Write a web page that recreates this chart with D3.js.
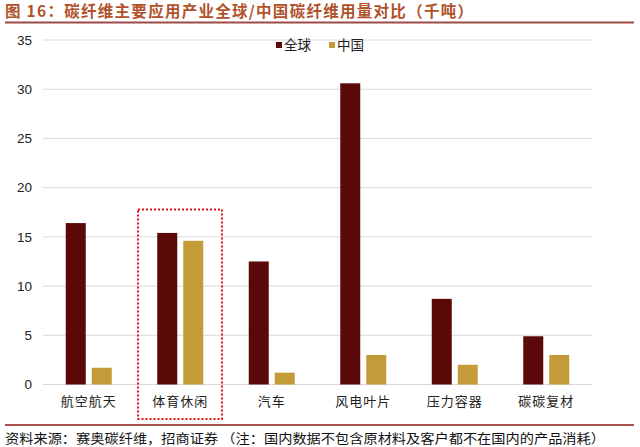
<!DOCTYPE html>
<html>
<head>
<meta charset="utf-8">
<script src="https://cdn.jsdelivr.net/npm/d3@7"></script>
<style>
  body { margin: 0; background: #fff; }
  svg text { font-family: "Noto Sans CJK SC", "Liberation Sans", sans-serif; }
</style>
</head>
<body>
<div id="chart"></div>
<script>
const categories = ['航空航天', '体育休闲', '汽车', '风电叶片', '压力容器', '碳碳复材']
const globalValues = [16.4, 15.4, 12.5, 30.6, 8.7, 4.9]
const chinaValues = [1.7, 14.6, 1.2, 3.0, 2.0, 3.0]
const seriesNames = ['全球', '中国']
const yTicks = [0, 5, 10, 15, 20, 25, 30, 35]

const width = 640
const height = 447
const margin = {top: 40, right: 48, bottom: 62.5, left: 43}
const colors = ['#5a0808', '#c39b38']

const svg = d3.select('#chart').append('svg')
    .attr('width', width)
    .attr('height', height)

// title
svg.append('text')
    .attr('x', 5)
    .attr('y', 17)
    .attr('fill', '#b0522a')
    .attr('font-size', 15.5)
    .attr('font-weight', 'bold')
    .attr('textLength', 468)
    .attr('lengthAdjust', 'spacing')
    .text('图 16：碳纤维主要应用产业全球/中国碳纤维用量对比（千吨）')
svg.append('line')
    .attr('x1', 5).attr('x2', 634)
    .attr('y1', 22.5).attr('y2', 22.5)
    .attr('stroke', '#9b4b45')
    .attr('stroke-width', 2)

const x = d3.scaleBand()
    .domain(categories)
    .range([margin.left, width - margin.right])

const y = d3.scaleLinear()
    .domain([0, 35])
    .range([height - margin.bottom, margin.top])

// gridlines
svg.append('g')
    .selectAll('line')
    .data(yTicks)
    .join('line')
    .attr('x1', margin.left)
    .attr('x2', width - margin.right)
    .attr('y1', d => y(d))
    .attr('y2', d => y(d))
    .attr('stroke', '#d9d9d9')
    .attr('stroke-width', 1)

// y tick labels
svg.append('g')
    .selectAll('text')
    .data(yTicks)
    .join('text')
    .attr('x', 32)
    .attr('y', d => y(d))
    .attr('dy', '0.35em')
    .attr('text-anchor', 'end')
    .attr('font-size', 13.5)
    .attr('fill', '#222')
    .style('font-family', '"Liberation Sans", Arial, sans-serif')
    .text(d => d)

const barW = 20
const gap = 6
const series = [globalValues, chinaValues]

series.forEach((vals, s) => {
    svg.append('g')
        .selectAll('rect')
        .data(vals)
        .join('rect')
        .attr('x', (d, i) => x(categories[i]) + x.bandwidth() / 2 - barW - gap / 2 + s * (barW + gap))
        .attr('y', d => y(d))
        .attr('width', barW)
        .attr('height', d => y(0) - y(d))
        .attr('fill', colors[s])
})

// category labels
svg.append('g')
    .selectAll('text')
    .data(categories)
    .join('text')
    .attr('x', d => x(d) + x.bandwidth() / 2)
    .attr('y', 406)
    .attr('text-anchor', 'middle')
    .attr('font-size', 13)
    .attr('letter-spacing', 1)
    .attr('fill', '#222')
    .text(d => d)

// highlight box round 体育休闲
const hb = x('体育休闲')
svg.append('rect')
    .attr('x', hb + 3.5)
    .attr('y', 209.5)
    .attr('width', x.bandwidth() - 7.5)
    .attr('height', 209.5)
    .attr('fill', 'none')
    .attr('stroke', '#e0141e')
    .attr('stroke-width', 2)
    .attr('stroke-dasharray', '2,2')

// legend
const legend = svg.append('g')
seriesNames.forEach((name, i) => {
    const lx = 276 + i * 53
    legend.append('rect')
        .attr('x', lx).attr('y', 42)
        .attr('width', 6).attr('height', 6)
        .attr('fill', colors[i])
    legend.append('text')
        .attr('x', lx + 8).attr('y', 50)
        .attr('font-size', 13.5)
        .attr('fill', '#222')
        .text(name)
})

// footer
svg.append('line')
    .attr('x1', 5).attr('x2', 634)
    .attr('y1', 425).attr('y2', 425)
    .attr('stroke', '#8b1414')
    .attr('stroke-width', 1.5)
svg.append('text')
    .attr('x', 5)
    .attr('y', 443)
    .attr('font-size', 13)
    .attr('fill', '#111')
    .attr('textLength', 600)
    .attr('lengthAdjust', 'spacingAndGlyphs')
    .text('资料来源：赛奥碳纤维，招商证券 （注：国内数据不包含原材料及客户都不在国内的产品消耗）')
</script>
</body>
</html>
